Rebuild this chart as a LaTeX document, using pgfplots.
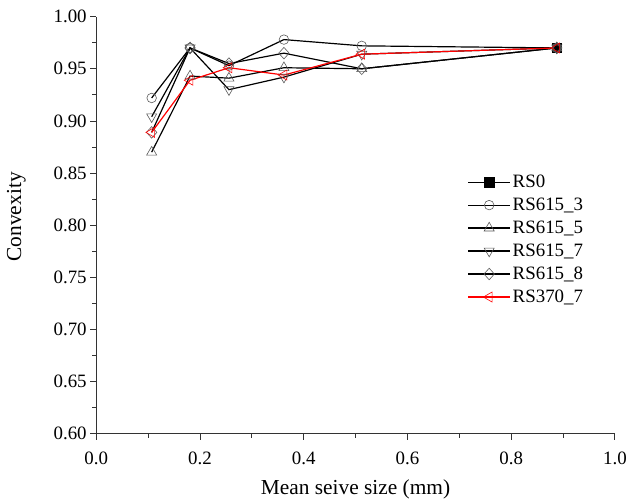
\documentclass[border=0pt]{standalone}
\usepackage{fontspec}
\setmainfont{Liberation Serif}
\usepackage{pgfplots}
\pgfplotsset{compat=1.18}
\usetikzlibrary{calc}

\begin{document}
\begin{tikzpicture}
\begin{axis}[
  name=ax,
  scale only axis, width=520bp, height=418bp,
  xmin=0, xmax=1, ymin=0.6, ymax=1.0,
  axis x line*=bottom, axis y line*=left,
  axis line style={-, line width=0.9pt, black!80},
  xtick={0,0.2,...,1.0}, ytick={0.6,0.65,...,1.0},
  minor x tick num=1, minor y tick num=1,
  tick align=outside,
  major tick length=6bp, minor tick length=4bp,
  tick style={line width=0.8pt, black!80},
  /pgf/number format/assume math mode=true,
  xticklabel style={/pgf/number format/fixed, /pgf/number format/fixed zerofill, /pgf/number format/precision=1, yshift=-9bp},
  yticklabel style={/pgf/number format/fixed, /pgf/number format/fixed zerofill, /pgf/number format/precision=2},
  ticklabel style={font=\fontsize{19}{23}\selectfont},
  label style={font=\fontsize{21.5}{26}\selectfont},
  xlabel={Mean seive size (mm)},
  ylabel={Convexity},
  xlabel style={at={(axis description cs:0.5,-0.134)}, anchor=center},
  ylabel style={at={(axis description cs:-0.154,0.52)}, anchor=center},
  every axis plot/.append style={line width=1.2pt},
  legend style={draw=none, fill=none, at={(rel axis cs:0.71,0.63)}, anchor=north west,
    font=\fontsize{19}{23}\selectfont, row sep=5bp},
  legend cell align=left,
  legend image code/.code={\draw[mark repeat=2,mark phase=2] plot coordinates {(0bp,0bp) (21bp,0bp) (42bp,0bp)};},
]
\addplot[black, mark=square*, mark size=4.8bp, mark options={fill=black, line width=0.6pt}]
  coordinates {(0.888,0.970)};
\addlegendentry{RS0}
\addplot[black, mark=o, mark size=4.8bp, mark options={fill=white, draw=black!65, line width=0.6pt}]
  coordinates {(0.107,0.922) (0.181,0.970) (0.256,0.953) (0.362,0.978) (0.512,0.972) (0.888,0.970)};
\addlegendentry{RS615\_3}
\addplot[black, mark=triangle, mark size=5.8bp, mark options={fill=white, draw=black!65, line width=0.6pt}]
  coordinates {(0.107,0.870) (0.181,0.943) (0.256,0.941) (0.362,0.951) (0.512,0.950) (0.888,0.970)};
\addlegendentry{RS615\_5}
\addplot[black, mark=triangle, mark size=5.8bp, mark options={fill=white, draw=black!65, line width=0.6pt, rotate=180}]
  coordinates {(0.107,0.904) (0.181,0.970) (0.256,0.930) (0.362,0.942) (0.512,0.964) (0.888,0.970)};
\addlegendentry{RS615\_7}
\addplot[black, mark=diamond, mark size=5.8bp, mark options={fill=white, draw=black!65, line width=0.6pt, xscale=1.2}]
  coordinates {(0.107,0.889) (0.181,0.970) (0.256,0.955) (0.362,0.965) (0.512,0.950) (0.888,0.970)};
\addlegendentry{RS615\_8}
\addplot[red, mark=triangle, mark size=5.8bp, mark options={fill=white, draw=red, line width=0.6pt, rotate=90}]
  coordinates {(0.107,0.889) (0.181,0.939) (0.256,0.951) (0.362,0.944) (0.512,0.964) (0.888,0.970)};
\addlegendentry{RS370\_7}
\end{axis}
\path ($(ax.south west)+(-96.4bp,-69bp)$) rectangle ($(ax.north east)+(13.3bp,16.7bp)$);
\end{tikzpicture}
\end{document}
